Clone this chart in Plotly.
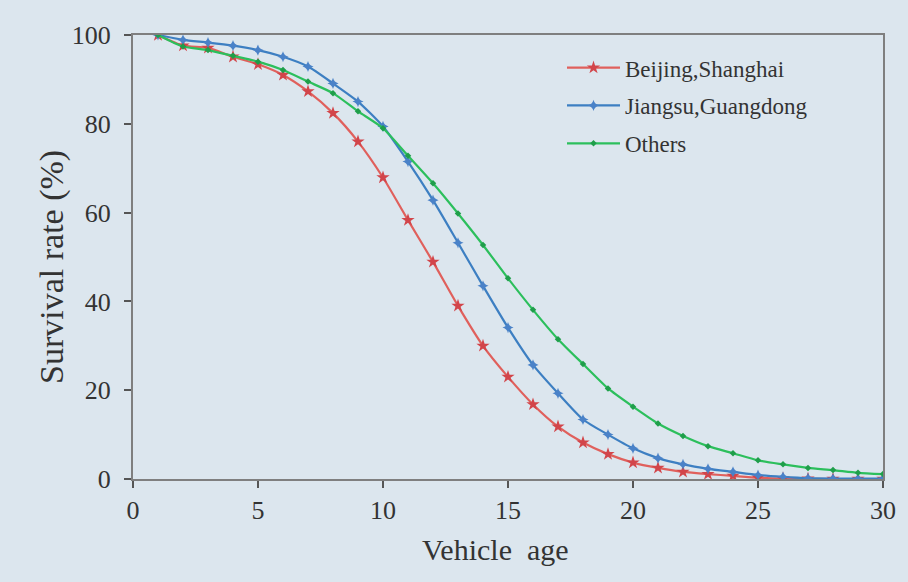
import plotly.graph_objects as go

ages = list(range(1, 31))
beijing_shanghai = [100, 97.6, 97.1, 95.1, 93.4, 91.0, 87.3, 82.4, 76.0, 67.9,
                    58.3, 48.9, 39.0, 30.0, 23.0, 16.8, 11.8, 8.2, 5.6, 3.7,
                    2.5, 1.6, 1.1, 0.7, 0.3, 0.1, 0.05, 0.0, 0.0, 0.0]
jiangsu_guangdong = [100, 98.9, 98.3, 97.6, 96.6, 95.1, 92.9, 89.1, 85.0, 79.4,
                     71.5, 62.8, 53.2, 43.5, 34.1, 25.7, 19.3, 13.4, 10.0, 6.9,
                     4.7, 3.3, 2.3, 1.6, 0.9, 0.5, 0.2, 0.1, 0.1, 0.1]
others = [100, 97.4, 96.6, 95.3, 94.0, 92.1, 89.5, 86.9, 82.8, 79.0,
          72.8, 66.6, 59.8, 52.7, 45.2, 38.1, 31.5, 25.9, 20.4, 16.3,
          12.5, 9.7, 7.4, 5.8, 4.2, 3.3, 2.5, 2.0, 1.4, 1.1]

series_names = ["Beijing,Shanghai", "Jiangsu,Guangdong", "Others"]
line_colors = ["#e0605c", "#3d7fc2", "#2cbf5c"]
marker_colors = ["#d2454a", "#4a82c8", "#1f9e4a"]
marker_symbols = ["star", "star-diamond", "diamond"]
marker_sizes = [10, 8, 5]
x_ticks = [0, 5, 10, 15, 20, 25, 30]
y_ticks = [0, 20, 40, 60, 80, 100]
x_title = "Vehicle  age"
y_title = "Survival rate (%)"

fig = go.Figure()
for i, (name, ys) in enumerate(zip(series_names, [beijing_shanghai, jiangsu_guangdong, others])):
    fig.add_trace(go.Scatter(
        x=ages, y=ys, name=name, mode="lines+markers",
        line=dict(color=line_colors[i], width=2.2, shape="spline", smoothing=0.6),
        marker=dict(symbol=marker_symbols[i], size=marker_sizes[i], color=marker_colors[i],
                    line=dict(width=0)),
        legendgroup=name,
    ))

bg = "#dce6ee"
font_family = "Liberation Serif"
text_color = "#333333"
fig.update_layout(
    width=908, height=582,
    margin=dict(l=133, r=15, t=35, b=103),
    paper_bgcolor=bg, plot_bgcolor=bg,
    font=dict(family=font_family, color=text_color, size=26),
    showlegend=True,
    legend=dict(x=0.572, y=0.975, xanchor="left", yanchor="top",
                bgcolor="rgba(0,0,0,0)", font=dict(size=23, family=font_family, color=text_color),
                tracegroupgap=5, itemwidth=53),
    xaxis=dict(range=[0, 30], tickvals=x_ticks, showgrid=False, zeroline=False,
               showline=True, mirror=True, linecolor="#7f7f7f", linewidth=2,
               ticks="outside", ticklen=7, tickcolor="#555555", tickwidth=1.5,
               tickfont=dict(size=26)),
    yaxis=dict(range=[0, 100], tickvals=y_ticks, showgrid=False, zeroline=False,
               showline=True, mirror=True, linecolor="#7f7f7f", linewidth=2,
               ticks="outside", ticklen=7, tickcolor="#555555", tickwidth=1.5,
               tickfont=dict(size=26), ticklabelstandoff=8),
    annotations=[
        dict(text=x_title, xref="paper", yref="paper", x=0.483, y=-0.158,
             xanchor="center", yanchor="middle", showarrow=False,
             font=dict(size=30, family=font_family, color=text_color)),
        dict(text=y_title, xref="paper", yref="paper", x=-0.108, y=0.4775,
             xanchor="center", yanchor="middle", showarrow=False, textangle=-90,
             font=dict(size=34, family=font_family, color=text_color)),
    ],
)

fig.write_html("out.html")
